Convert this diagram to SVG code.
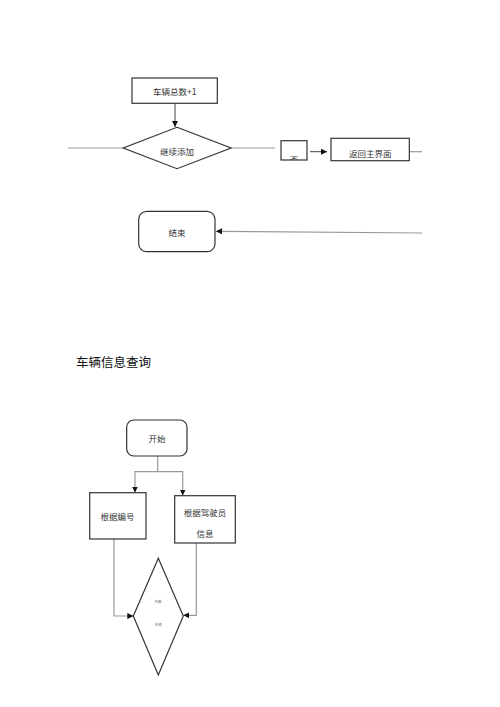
<svg xmlns="http://www.w3.org/2000/svg" width="500" height="707" viewBox="0 0 500 707">
<style>
.box{fill:#fff;stroke:#333;stroke-width:1.2}
.ln{fill:none;stroke:#999;stroke-width:1.2}
.lnd{fill:none;stroke:#444;stroke-width:1}
.t{font-family:"Noto Sans CJK SC","Liberation Sans",sans-serif;font-size:8.5px;fill:#333;text-anchor:middle;dominant-baseline:central}
.tiny{font-family:"Noto Sans CJK SC",sans-serif;font-size:3.5px;fill:#777;text-anchor:middle;dominant-baseline:central}
.title{font-family:"Noto Sans CJK SC",sans-serif;font-size:12.5px;fill:#111}
</style>
<defs>
<marker id="ah" viewBox="0 0 10 10" refX="10" refY="5" markerWidth="6" markerHeight="6" orient="auto" markerUnits="userSpaceOnUse">
<path d="M0,0 L10,5 L0,10 z" fill="#111"/>
</marker>
<clipPath id="clipNo"><rect x="281" y="140.7" width="26" height="19"/></clipPath>
</defs>
<rect width="500" height="707" fill="#fff"/>
<g id="connectors">
<line class="lnd" x1="175" y1="103" x2="175" y2="127" marker-end="url(#ah)"/>
<line class="ln" x1="68" y1="148" x2="141" y2="148"/>
<line class="ln" x1="225" y1="148" x2="275" y2="148"/>
<line class="lnd" x1="310" y1="151.7" x2="327" y2="151.7" marker-end="url(#ah)"/>
<line class="ln" x1="409.3" y1="151.7" x2="422" y2="151.7"/>
<line class="ln" x1="422" y1="233" x2="216" y2="231.3" marker-end="url(#ah)"/>
<path class="ln" d="M157.7,456 V471.7 H135 V492.5" marker-end="url(#ah)"/>
<path class="ln" d="M157.7,471.7 H182.7 V495.5" marker-end="url(#ah)"/>
<path class="ln" d="M114,539 V616 H133.3" marker-end="url(#ah)"/>
<path class="ln" d="M196.3,543 V615.3 H183.3" marker-end="url(#ah)"/>
</g>
<g id="n-count">
<rect class="box" x="132" y="78" width="85.3" height="25.3"/>
<text class="t" x="174.7" y="91">车辆总数+1</text>
</g>
<g id="n-continue">
<polygon class="box" points="177,127.3 231,148 177,168.7 123.3,148"/>
<text class="t" x="177" y="151">继续添加</text>
</g>
<g id="n-no">
<rect class="box" x="281" y="140.7" width="26" height="19.3"/>
<text class="t" x="294" y="159" clip-path="url(#clipNo)">否</text>
</g>
<g id="n-return">
<rect class="box" x="331" y="138.3" width="78.3" height="22.4"/>
<text class="t" x="370.2" y="152.5">返回主界面</text>
</g>
<g id="n-end">
<rect class="box" x="138.7" y="211.3" width="76.3" height="40.4" rx="8"/>
<text class="t" x="177" y="231.5">结束</text>
</g>
<text class="title" x="76" y="367">车辆信息查询</text>
<g id="n-start">
<rect class="box" x="126.7" y="420" width="60.3" height="36" rx="7"/>
<text class="t" x="157" y="438">开始</text>
</g>
<g id="n-byid">
<rect class="box" x="89.7" y="492.7" width="56.3" height="46.3"/>
<text class="t" x="117.5" y="515.5">根据编号</text>
</g>
<g id="n-bydriver">
<rect class="box" x="174.7" y="495.7" width="60.6" height="47.3"/>
<text class="t" x="205" y="511.7">根据驾驶员</text>
<text class="t" x="205" y="533.3">信息</text>
</g>
<g id="n-judge">
<polygon class="box" points="158.3,558.3 183.3,616 158.3,675 133.3,616"/>
<text class="tiny" x="158.3" y="601.7">判断</text>
<text class="tiny" x="158.3" y="624.3">车辆</text>
</g>
</svg>
